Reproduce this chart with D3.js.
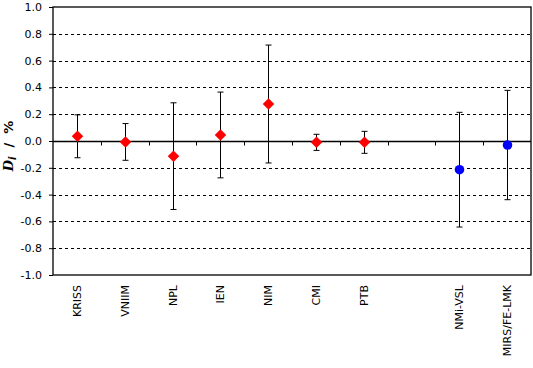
<!DOCTYPE html>
<meta charset="utf-8">
<style>
body { margin: 0; background: #fff; }
svg { font-family: "DejaVu Sans", Verdana, sans-serif; }
.grid line { stroke: #000; stroke-width: 1; stroke-dasharray: 3,3; }
.frame { fill: none; stroke: #000; stroke-width: 1.3; }
.err { stroke: #000; stroke-width: 1; fill: none; }
.lab { font-size: 11px; fill: #000; }
</style>
<body>
<script src="https://cdn.jsdelivr.net/npm/d3@7/dist/d3.min.js"></script>
<script>

var width = 533,
    height = 368;

// blank slot between PTB and NMi-VSL
var labs = ["KRISS", "VNIIM", "NPL", "IEN", "NIM", "CMI", "PTB", "", "NMi-VSL", "MIRS/FE-LMK"];
var di = [0.035, -0.007, -0.113, 0.045, 0.276, -0.010, -0.010, null, -0.214, -0.030];
var ui = [0.160, 0.137, 0.398, 0.320, 0.440, 0.060, 0.082, null, 0.428, 0.408];
var grp = ["a", "a", "a", "a", "a", "a", "a", null, "b", "b"];
var yTicks = [-1.0, -0.8, -0.6, -0.4, -0.2, 0.0, 0.2, 0.4, 0.6, 0.8, 1.0];

// plot box (window.top is reserved, hence the names)
var pL = 53, pR = 531, pT = 7, pB = 275;

var x = d3.scaleBand()
    .domain(d3.range(labs.length))
    .range([pL, pR])
    .padding(0);

var y = d3.scaleLinear()
    .domain([-1, 1])
    .range([pB, pT]);

var svg = d3.select("body").append("svg")
    .attr("width", width)
    .attr("height", height);

// dashed grid
svg.append("g").attr("class", "grid")
  .selectAll("line")
  .data(yTicks.filter(function(d) { return d !== 0 && Math.abs(d) !== 1; }))
  .enter().append("line")
    .attr("x1", pL).attr("x2", pR)
    .attr("y1", function(d) { return Math.round(y(d)) + 0.5; })
    .attr("y2", function(d) { return Math.round(y(d)) + 0.5; });

// y axis
var yAxis = d3.axisLeft(y)
    .tickValues(yTicks)
    .tickSize(4)
    .tickPadding(7)
    .tickFormat(function(d) { return d.toFixed(1); });

var ga = svg.append("g")
    .attr("transform", "translate(" + pL + ",0)")
    .call(yAxis);
ga.select(".domain").remove();
ga.attr("font-family", null).attr("font-size", null);
ga.selectAll("line").attr("stroke", "#000");
ga.selectAll("text").attr("class", "lab").attr("fill", "#000");

// frame
svg.append("rect").attr("class", "frame")
    .attr("x", pL).attr("y", pT)
    .attr("width", pR - pL).attr("height", pB - pT);

// zero line with category tick marks below it
var y0 = Math.round(y(0)) + 0.5;
svg.append("line")
    .attr("x1", pL).attr("x2", pR)
    .attr("y1", y0).attr("y2", y0)
    .attr("stroke", "#000").attr("stroke-width", 1.3);

svg.append("g").selectAll("line")
  .data(d3.range(1, labs.length))
  .enter().append("line")
    .attr("x1", function(i) { return Math.round(x(i)) + 0.5; })
    .attr("x2", function(i) { return Math.round(x(i)) + 0.5; })
    .attr("y1", y0).attr("y2", y0 + 4)
    .attr("stroke", "#000");

// x labels
svg.append("g").selectAll("text")
  .data(labs)
  .enter().append("text")
    .attr("class", "lab")
    .attr("text-anchor", "end")
    .attr("transform", function(d, i) {
      return "translate(" + (x(i) + x.bandwidth() / 2 + 4) + ",285) rotate(-90)";
    })
    .text(function(d) { return d; });

var pts = d3.range(labs.length).filter(function(i) { return di[i] !== null; });
function cx(i) { return x(i) + x.bandwidth() / 2; }

// error bars
var eb = svg.append("g").attr("class", "err");
pts.forEach(function(i) {
  var xc = Math.round(cx(i)) + 0.5,
      yt = y(di[i] + ui[i]),
      yb = y(di[i] - ui[i]);
  eb.append("line").attr("x1", xc).attr("x2", xc).attr("y1", yt).attr("y2", yb);
  eb.append("line").attr("x1", xc - 3).attr("x2", xc + 3).attr("y1", yt).attr("y2", yt);
  eb.append("line").attr("x1", xc - 3).attr("x2", xc + 3).attr("y1", yb).attr("y2", yb);
});

// markers
var diamond = d3.symbol().type(d3.symbolSquare).size(66);
var circle = d3.symbol().type(d3.symbolCircle).size(72);

svg.append("g").selectAll("path")
  .data(pts)
  .enter().append("path")
    .attr("d", function(i) { return grp[i] === "a" ? diamond() : circle(); })
    .attr("fill", function(i) { return grp[i] === "a" ? "#ff0000" : "#0000ff"; })
    .attr("transform", function(i) {
      return "translate(" + (Math.round(cx(i)) + 0.5) + "," + y(di[i]) + ")" +
        (grp[i] === "a" ? " rotate(45)" : "");
    });

// y axis title
var yl = svg.append("text")
    .attr("transform", "translate(13,146) rotate(-90)")
    .attr("text-anchor", "middle")
    .style("font-size", "13px")
    .style("font-weight", "bold");
yl.append("tspan").style("font-style", "italic").style("font-family", "DejaVu Serif, serif").text("D");
yl.append("tspan").style("font-style", "italic").style("font-size", "10px").attr("dy", 3).text("i");
yl.append("tspan").attr("dy", -3).text("\u00a0\u00a0/\u00a0\u00a0%");

</script>
